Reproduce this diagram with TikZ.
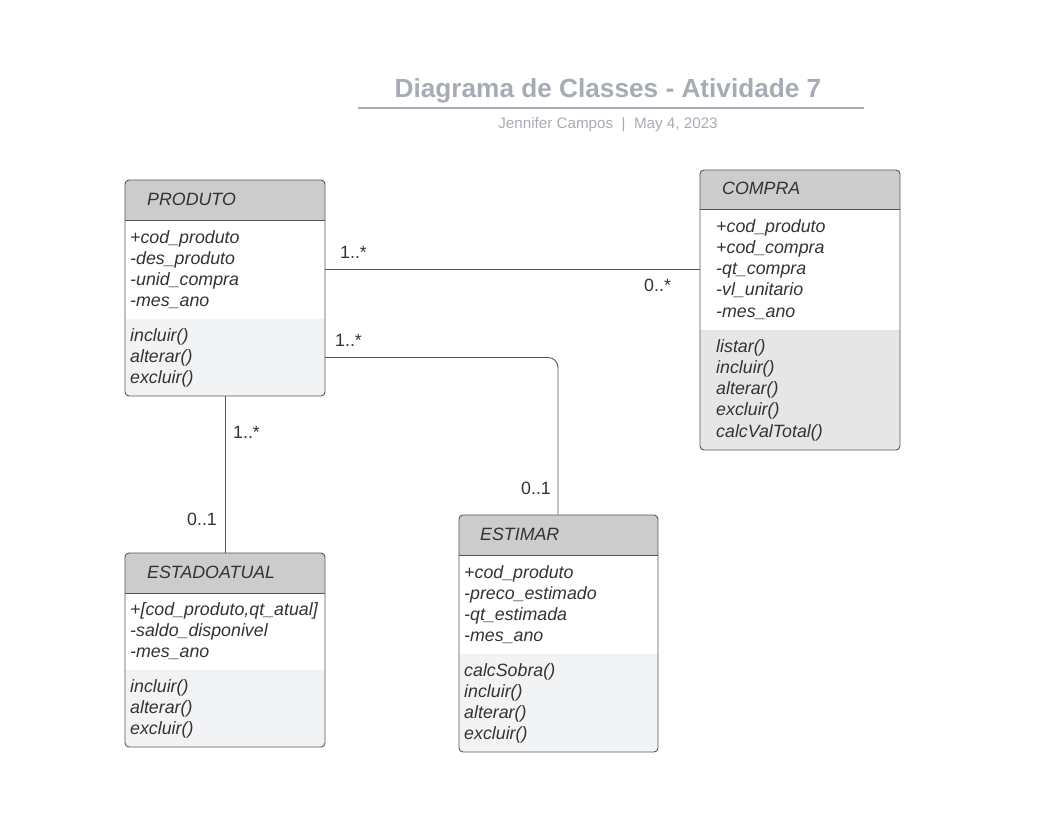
\documentclass[tikz,border=0pt]{standalone}
\usepackage{fontspec}
\setmainfont{Liberation Sans}
\definecolor{textc}{HTML}{333333}
\definecolor{hdr}{HTML}{CCCCCC}
\definecolor{methA}{HTML}{F2F3F5}
\definecolor{methB}{HTML}{E6E6E6}
\definecolor{edge}{HTML}{555555}
\definecolor{titlec}{HTML}{A6ABB5}
\newcommand\umlbox[8]{% name, x1, y1, x2, y2, yhead, ymeth, methcolor
  \begin{scope}
    \clip[rounded corners=4pt] (#2,#3) rectangle (#4,#5);
    \fill[hdr] (#2,#3) rectangle (#4,#6);
    \fill[white] (#2,#6) rectangle (#4,#7);
    \fill[#8] (#2,#7) rectangle (#4,#5);
  \end{scope}
  \draw[boxline] (#2,#6) -- (#4,#6);
  \node[boxnode, minimum width=#4-#2, minimum height=#5-#3] (#1) at ({(#2+#4)/2},{(#3+#5)/2}) {};
}
\begin{document}
\begin{tikzpicture}[x=1pt,y=-1pt,
  boxline/.style={draw=edge, line width=0.9pt},
  boxnode/.style={draw=edge, line width=0.9pt, rounded corners=4pt, rectangle, inner sep=0pt},
  txt/.style={anchor=base west, inner sep=0pt, font=\fontsize{17.8}{21}\selectfont\itshape, text=textc},
  lbl/.style={anchor=base west, inner sep=0pt, font=\fontsize{17.8}{21}\selectfont, text=textc},
  conn/.style={draw=edge, line width=0.9pt}]
\useasboundingbox (0,0) rectangle (1063,830);

% title
\node[anchor=base, inner sep=0pt, font=\fontsize{26.2}{30}\selectfont\bfseries, text=titlec] (title) at (608,97) {Diagrama de Classes - Atividade 7};
\draw[titlec, line width=2pt] (358,107.5) -- (864,107.5);
\node[anchor=base, inner sep=0pt, font=\fontsize{15.2}{18}\selectfont, text=titlec] (subtitle) at (608,128) {Jennifer Campos \ | \ May 4, 2023};

% boxes
\umlbox{produto}{125}{180}{325}{396}{220}{319}{methA}
\umlbox{compra}{700}{170}{900}{450}{209}{330}{methB}
\umlbox{estado}{125}{553}{325}{747}{593}{670}{methA}
\umlbox{estimar}{459}{515}{658}{752}{555}{654}{methA}

% PRODUTO
\node[txt] (produtoT) at (147,205) {PRODUTO};
\foreach \t [count=\i from 0] in {+cod\_produto,-des\_produto,-unid\_compra,-mes\_ano}
  \node[txt] at (130,243+\i*21.2) {\t};
\foreach \t [count=\i from 0] in {incluir(),alterar(),excluir()}
  \node[txt] at (130,341+\i*21.2) {\t};

% COMPRA
\node[txt] (compraT) at (722,194) {COMPRA};
\foreach \t [count=\i from 0] in {+cod\_produto,+cod\_compra,-qt\_compra,-vl\_unitario,-mes\_ano}
  \node[txt] at (716,232+\i*21.25) {\t};
\foreach \t [count=\i from 0] in {listar(),incluir(),alterar(),excluir(),calcValTotal()}
  \node[txt] at (716,352+\i*21.25) {\t};

% ESTADOATUAL
\node[txt] (estadoT) at (147,578) {ESTADOATUAL};
\foreach \t [count=\i from 0] in {{+[cod\_produto,qt\_atual]},-saldo\_disponivel,-mes\_ano}
  \node[txt] at (130,615+\i*21.3) {\t};
\foreach \t [count=\i from 0] in {incluir(),alterar(),excluir()}
  \node[txt] at (130,692+\i*21.3) {\t};

% ESTIMAR
\node[txt] (estimarT) at (480,540) {ESTIMAR};
\foreach \t [count=\i from 0] in {+cod\_produto,-preco\_estimado,-qt\_estimada,-mes\_ano}
  \node[txt] at (464,578+\i*21.3) {\t};
\foreach \t [count=\i from 0] in {calcSobra(),incluir(),alterar(),excluir()}
  \node[txt] at (464,676+\i*21.3) {\t};

% connectors
\coordinate (pc) at (325,269);
\draw[conn] (pc) -- (compra.west |- pc);
\coordinate (pe) at (325,357.5);
\coordinate (ec) at (558,357.5);
\draw[conn, rounded corners=10pt] (pe) -- (ec) -- (ec |- estimar.north);
\coordinate (pd) at (225,396);
\draw[conn] (pd) -- (pd |- estado.north);

% multiplicities
\node[lbl] (m1) at (340,258) {1..*};
\node[lbl] (m2) at (644,291) {0..*};
\node[lbl] (m3) at (335,346) {1..*};
\node[lbl] (m4) at (521,494) {0..1};
\node[lbl] (m5) at (233,438) {1..*};
\node[lbl] (m6) at (187,525) {0..1};
\end{tikzpicture}
\end{document}
